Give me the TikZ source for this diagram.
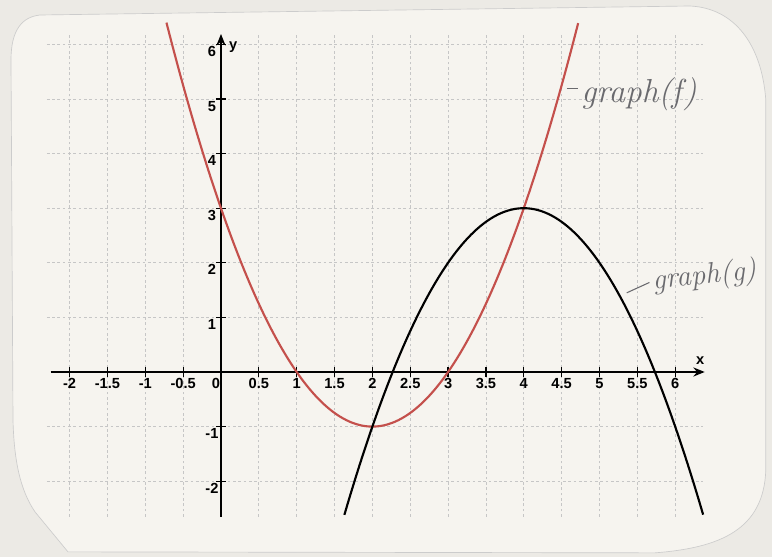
\documentclass[tikz,border=0pt]{standalone}
\usepackage{fontspec}
\setsansfont{Liberation Sans}
\usepackage{xcolor}
\usetikzlibrary{arrows.meta,positioning}

\definecolor{curvaf}{HTML}{C4504C}
\definecolor{carta}{HTML}{F6F4EF}
\definecolor{sfondo}{HTML}{ECEAE5}
\definecolor{matita}{HTML}{6A6A6E}

\begin{document}
\begin{tikzpicture}[x=2cm, y=1.4425cm, thick]
    % Stili
    \tikzstyle{griglia}=[gray!45, dash pattern=on 2pt off 2pt, line width=0.5pt]
    \tikzstyle{asse}=[line width=1.3pt, -{Stealth[length=3mm, width=2.4mm]}]
    \tikzstyle{tacca}=[line width=0.9pt]
    \tikzstyle{numero}=[font=\sffamily\bfseries\fontsize{11}{13}\selectfont, inner sep=1pt]
    \tikzstyle{graficof}=[curvaf, line width=1.6pt]
    \tikzstyle{graficog}=[black, line width=1.6pt]
    \tikzstyle{nota}=[matita, font=\itshape\fontsize{25}{27}\selectfont, inner sep=2pt]
    \tikzstyle{trattino}=[matita, line width=0.8pt]

    \useasboundingbox (-2.919,-3.388) rectangle (7.279,6.813);

    % Foglio
    \fill[sfondo] (-2.919,-3.388) rectangle (7.279,6.813);
    \begin{scope}[shift={(-2.919,6.813)}, x=0.02642cm, y=-0.02642cm]
        \filldraw[fill=carta, draw=gray!40, line width=0.5pt]
            (40,15) -- (690,6) .. controls (735,8) and (762,45) .. (766,100)
            -- (766,470) .. controls (764,530) and (720,548) .. (655,553)
            -- (68,552) -- (35,512) .. controls (20,490) and (14,460) .. (13,420)
            -- (11,60) .. controls (11,30) and (22,17) .. (40,15) -- cycle;
    \end{scope}

    % Griglia
    \foreach \gx in {-2,-1.5,...,6}
        \draw[griglia] (\gx,-2.65) -- (\gx,6.17);
    \foreach \gy in {-2,-1,1,2,3,4,5,6}
        \draw[griglia] (-2.3,\gy) -- (6.37,\gy);

    % Assi
    \coordinate (xinizio) at (-2.25,0);
    \coordinate (xfine) at (6.39,0);
    \coordinate (yinizio) at (0,-2.65);
    \coordinate (yfine) at (0,6.19);
    \draw[asse] (xinizio) -- (xfine);
    \draw[asse] (yinizio) -- (yfine);
    \node[numero] (etx) at (6.33,0.2) {x};
    \node[numero] (ety) at (0.16,5.95) {y};

    % Tacche e numeri
    \foreach \t [count=\i] in {-2,-1.5,-1,-0.5,0.5,1,1.5,2,2.5,3,3.5,4,4.5,5,5.5,6} {
        \draw[tacca] (\t,-0.09) -- (\t,0.09);
        \node[numero] (nx\i) at (\t,-0.21) {\t};
    }
    \node[numero] (origine) at (-0.066,-0.21) {0};
    \foreach \t [count=\i] in {-2,-1,1,2,3,4,5,6} {
        \draw[tacca] (-0.066,\t) -- (0.066,\t);
        \node[numero] (ny\i) at (-0.12,\t-0.13) {\t};
    }

    % Grafici
    \draw[graficof] plot[domain=-0.72:4.72, samples=120, smooth] (\x,{(\x-2)^2-1});
    \draw[graficog] plot[domain=1.63:6.37, samples=120, smooth] (\x,{3-(\x-4)^2});

    % Note a matita
    \node[nota, anchor=west] (notaf) at (4.72,5.08) {graph(f)};
    \coordinate (df) at (4.57,5.19);
    \draw[trattino] (df) -- (notaf.west |- df);

    \node[nota, anchor=west, rotate=6, font=\itshape\fontsize{22}{24}\selectfont] (notag) at (5.66,1.64) {graph(g)};
    \coordinate (dg) at (5.36,1.45);
    \draw[trattino] (dg) -- (notag.west);

\end{tikzpicture}
\end{document}
